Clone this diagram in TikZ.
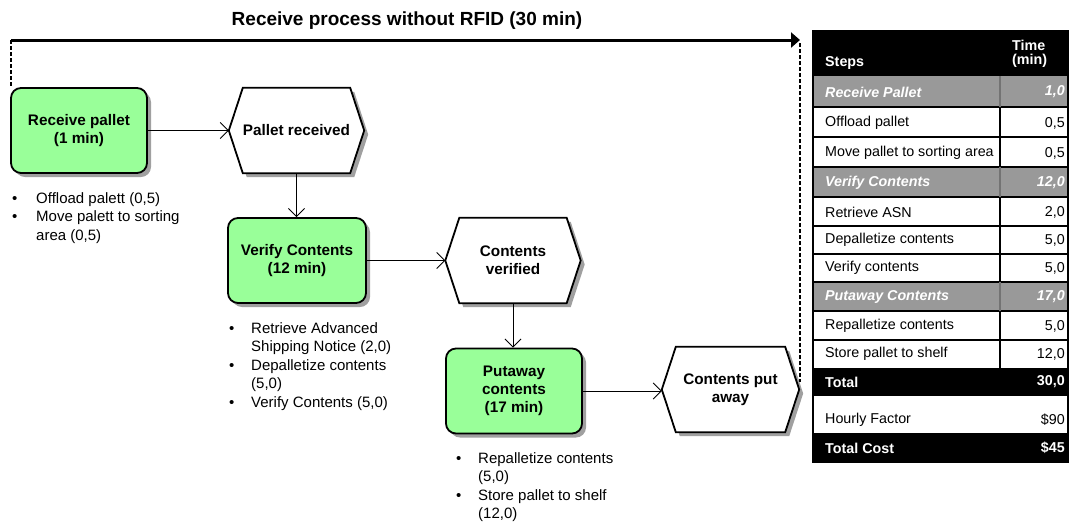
\documentclass[tikz,border=0pt]{standalone}
\usepackage{fontspec}
\setmainfont{Liberation Sans}
\usetikzlibrary{arrows.meta,shadows}
\definecolor{procgreen}{RGB}{153,255,153}
\definecolor{shgray}{RGB}{160,160,160}
\definecolor{rowgray}{RGB}{153,153,153}
\pgfdeclarelayer{bg}
\pgfsetlayers{bg,main}
\newcommand\bul[1]{\makebox[#1][l]{\textbullet}}
\begin{document}
\begin{tikzpicture}[x=1pt,y=-1pt,
  proc/.style={draw,line width=1.8pt,fill=procgreen,rounded corners=10pt,
    minimum width=136pt,minimum height=85pt,align=center,inner sep=0pt,
    font=\bfseries\fontsize{15.3}{18}\selectfont,
    drop shadow={shadow xshift=4pt,shadow yshift=-4pt,fill=shgray,opacity=1}},
  evt/.style={minimum width=135pt,minimum height=85pt,align=center,inner sep=0pt,
    font=\bfseries\fontsize{15.3}{18}\selectfont},
  conn/.style={line width=0.9pt,-{Straight Barb[length=8pt,width=16pt]}},
  dsh/.style={line width=2pt,dash pattern=on 4pt off 2pt},
  blist/.style={anchor=north west,inner sep=0pt,align=left,
    font=\fontsize{15}{18.5}\selectfont},
  tabtxt/.style={inner sep=0pt,font=\fontsize{14.3}{16}\selectfont},
  tl/.style={tabtxt,anchor=west},
  tr/.style={tabtxt,anchor=east},
  hd/.style={tabtxt,anchor=west,text=white,font=\bfseries\fontsize{14.3}{16}\selectfont},
  hdr/.style={tabtxt,anchor=east,text=white,font=\bfseries\fontsize{14.3}{16}\selectfont},
  gl/.style={tabtxt,anchor=west,text=white,font=\bfseries\itshape\fontsize{14.3}{16}\selectfont},
  gr/.style={tabtxt,anchor=east,text=white,font=\bfseries\itshape\fontsize{14.3}{16}\selectfont},
  tline/.style={line width=1.5pt}
]
\useasboundingbox (0,0) rectangle (1069,523);

% title
\node[font=\bfseries\fontsize{19}{22}\selectfont] (title) at (407,21) {Receive process without RFID (30 min)};

% process boxes
\node[proc] (rp) at (79,130.5) {Receive pallet\\(1 min)};
\node[proc,minimum width=138pt] (vc) at (297,260.5) {Verify Contents\\(12 min)};
\node[proc] (pa) at (514,391) {Putaway\\contents\\(17 min)};

% events
\node[evt] (pr) at (296.5,130.5) {Pallet received};
\node[evt] (cv) at (513,260.5) {Contents\\verified};
\node[evt,minimum width=137pt] (cpa) at (730.5,389.5) {Contents put\\away};

\begin{pgfonlayer}{bg}
\foreach \n in {pr,cv,cpa}{
  \fill[shgray] ([shift={(4pt,-4pt)}]\n.west) -- ([shift={(18pt,-4pt)}]\n.north west)
    -- ([shift={(-10pt,-4pt)}]\n.north east) -- ([shift={(4pt,-4pt)}]\n.east)
    -- ([shift={(-10pt,-4pt)}]\n.south east) -- ([shift={(18pt,-4pt)}]\n.south west) -- cycle;
  \draw[line width=1.8pt,fill=white,line join=miter] (\n.west) -- ([xshift=14pt]\n.north west)
    -- ([xshift=-14pt]\n.north east) -- (\n.east)
    -- ([xshift=-14pt]\n.south east) -- ([xshift=14pt]\n.south west) -- cycle;
}
\end{pgfonlayer}

% connectors
\draw[conn] (rp.east) -- (pr.west);
\draw[conn] (pr.south) -- (pr.south |- vc.north);
\draw[conn] (vc.east) -- (cv.west);
\draw[conn] (cv.south) -- (cv.south |- pa.north);
\draw[conn] (pa.east) -- (pa.east -| cpa.west);

% top arrow and dashed bounds
\coordinate (tl) at (11,40);
\coordinate (tr) at (800,40);
\coordinate (rd) at (800,382);
\draw[dsh] (tl) -- (tl |- rp.north);
\draw[dsh] ([yshift=-3pt]tr) -- (rd);
\draw[line width=3pt,-{Triangle[length=9pt,width=15pt]}] (tl) -- (tr);

% bullet lists
\node[blist] (l1) at (12,192) {\bul{24pt}Offload palett (0,5)\\\bul{24pt}Move palett to sorting\\\hspace*{24pt}area (0,5)};
\node[blist] (l2) at (229,322) {\bul{22pt}Retrieve Advanced\\\hspace*{22pt}Shipping Notice (2,0)\\\bul{22pt}Depalletize contents\\\hspace*{22pt}(5,0)\\\bul{22pt}Verify Contents (5,0)};
\node[blist] (l3) at (456,452) {\bul{22pt}Repalletize contents\\\hspace*{22pt}(5,0)\\\bul{22pt}Store pallet to shelf\\\hspace*{22pt}(12,0)};

% table backgrounds
\fill[black] (813,30) rectangle (1068,76);
\fill[rowgray] (813,76) rectangle (1068,107);
\fill[rowgray] (813,167) rectangle (1068,197);
\fill[rowgray] (813,282) rectangle (1068,311);
\fill[black] (813,368) rectangle (1068,396);
\fill[black] (813,433) rectangle (1068,463);
% table lines
\foreach \yy in {107,137,167,197,226,254,282,311,340}{
  \draw[tline] (813,\yy) -- (1068,\yy);
}
\foreach \ya/\yb in {107/167,197/282,311/368}{
  \draw[tline] (1000,\ya) -- (1000,\yb);
}
\foreach \ya/\yb in {76/107,167/197,282/311}{
  \draw[line width=1.5pt,black!55] (1000,\ya) -- (1000,\yb);
}
\draw[line width=2.5pt] (813,30) -- (813,463);
\draw[line width=1.2pt] (1068,30) -- (1068,463);

% table text
\node[hd] (h1) at (825,63) {Steps};
\node[hd] (h2) at (1012,45) {Time};
\node[hd] (h3) at (1012,61) {(min)};
\node[gl] (r1a) at (825,92) {Receive Pallet};
\node[gr] (r1b) at (1065,92) {1,0};
\node[tl] (r2a) at (825,123) {Offload pallet};
\node[tr] (r2b) at (1065,123) {0,5};
\node[tl] (r3a) at (825,153) {Move pallet to sorting area};
\node[tr] (r3b) at (1065,153) {0,5};
\node[gl] (r4a) at (825,183) {Verify Contents};
\node[gr] (r4b) at (1065,183) {12,0};
\node[tl] (r5a) at (825,212) {Retrieve ASN};
\node[tr] (r5b) at (1065,212) {2,0};
\node[tl] (r6a) at (825,240) {Depalletize contents};
\node[tr] (r6b) at (1065,240) {5,0};
\node[tl] (r7a) at (825,268) {Verify contents};
\node[tr] (r7b) at (1065,268) {5,0};
\node[gl] (r8a) at (825,297) {Putaway Contents};
\node[gr] (r8b) at (1065,297) {17,0};
\node[tl] (r9a) at (825,326) {Repalletize contents};
\node[tr] (r9b) at (1065,326) {5,0};
\node[tl] (r10a) at (825,354) {Store pallet to shelf};
\node[tr] (r10b) at (1065,354) {12,0};
\node[hd] (r11a) at (825,382) {Total};
\node[hdr] (r11b) at (1065,382) {30,0};
\node[tl] (r12a) at (825,420) {Hourly Factor};
\node[tr] (r12b) at (1065,420) {\$90};
\node[hd] (r13a) at (825,448) {Total Cost};
\node[hdr] (r13b) at (1065,448) {\$45};
\end{tikzpicture}
\end{document}
